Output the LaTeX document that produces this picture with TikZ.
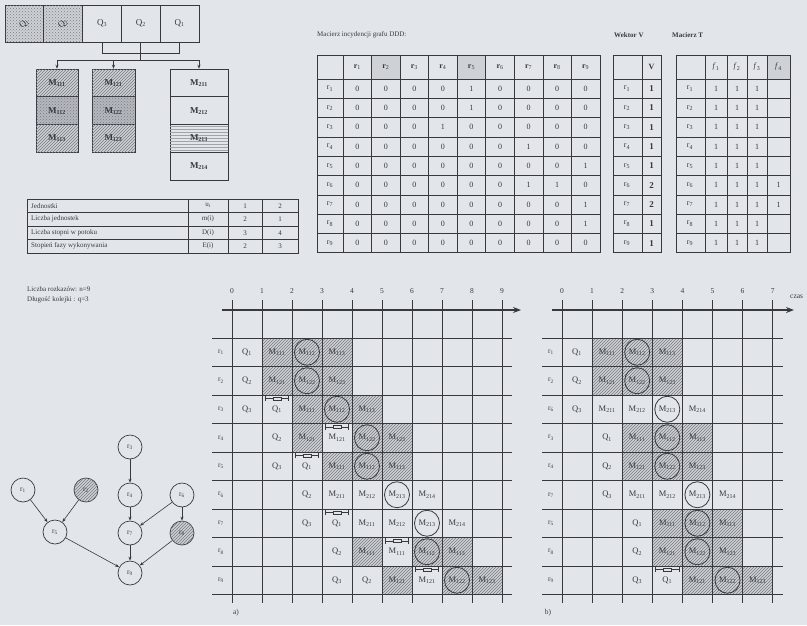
\documentclass[tikz,border=0pt]{standalone}
\usepackage{fontspec}
\setmainfont{Liberation Serif}
\usetikzlibrary{arrows.meta,patterns}
\definecolor{bgc}{RGB}{226,230,235}
\definecolor{lc}{RGB}{55,57,62}
\definecolor{hbg}{RGB}{206,210,215}
\definecolor{hln}{RGB}{120,124,129}
\definecolor{dk}{RGB}{180,184,190}
\newcommand\Mx[1]{M\textsubscript{#1}}
\newcommand\Qx[1]{Q\textsubscript{#1}}
\newcommand\rx[1]{r\textsubscript{#1}}
\begin{document}
\begin{tikzpicture}[x=1pt,y=-1pt,
  every node/.style={text=lc, inner sep=0pt},
  ln/.style={draw=lc, line width=0.75pt},
  thinln/.style={draw=lc, line width=0.55pt},
  hatch/.style={fill=hbg, postaction={pattern=north east lines, pattern color=hln}},
  dotfill/.style={fill=hbg, postaction={pattern=crosshatch dots, pattern color=hln}},
  qbox/.style={draw=lc, line width=0.8pt, minimum width=38.8, minimum height=37, font=\fontsize{9}{10}\selectfont},
  mbox/.style={draw=lc, line width=0.8pt, minimum height=27.7, font=\fontsize{9}{10}\selectfont\bfseries},
  tt/.style={font=\fontsize{7}{8}\selectfont},
  mt/.style={font=\fontsize{8}{9}\selectfont},
  ct/.style={font=\fontsize{8.5}{9}\selectfont},
  rt/.style={font=\fontsize{7.5}{8}\selectfont},
  gnode/.style={circle, draw=lc, line width=0.7pt, minimum size=24, font=\fontsize{7.5}{8}\selectfont},
  circ/.style={draw=lc, line width=0.8pt},
  arr/.style={-{Stealth[length=4pt,width=3pt]}, draw=lc, line width=0.6pt}
]
\fill[bgc] (0,0) rectangle (807,625);
\useasboundingbox (0,0) rectangle (807,625);

% ---------- queue boxes ----------
\node[qbox, dotfill] (q1) at (24.4,23.5) {\rotatebox{40}{\Qx{1}}};
\node[qbox, dotfill] (q2) at (63.2,23.5) {\rotatebox{40}{\Qx{2}}};
\node[qbox] (q3) at (102,23.5) {\Qx{3}};
\node[qbox] (q4) at (140.8,23.5) {\Qx{2}};
\node[qbox] (q5) at (179.6,23.5) {\Qx{1}};

% ---------- module stacks ----------
\node[mbox, minimum width=42, hatch] (s11) at (57,83) {\Mx{111}};
\node[mbox, minimum width=42, fill=dk, postaction={pattern=crosshatch dots, pattern color=hln}] (s12) at (57,110.7) {\Mx{112}};
\node[mbox, minimum width=42, hatch] (s13) at (57,138.4) {\Mx{113}};
\node[mbox, minimum width=43, hatch] (s21) at (113.5,83) {\Mx{121}};
\node[mbox, minimum width=43, fill=dk, postaction={pattern=crosshatch dots, pattern color=hln}] (s22) at (113.5,110.7) {\Mx{122}};
\node[mbox, minimum width=43, hatch] (s23) at (113.5,138.4) {\Mx{123}};
\node[mbox, minimum width=58] (s31) at (199,83) {\Mx{211}};
\node[mbox, minimum width=58] (s32) at (199,110.7) {\Mx{212}};
\node[mbox, minimum width=58, postaction={pattern=horizontal lines, pattern color=hln!70}] (s33) at (199,138.4) {\Mx{213}};
\node[mbox, minimum width=58] (s34) at (199,166.1) {\Mx{214}};

\path (q3.south) ++(0,11) coordinate (j3);
\path (q4.south) ++(0,11) coordinate (j4);
\path (q5.south) ++(0,11) coordinate (j5);
\coordinate (k4) at (140.8,60);
\coordinate (c1) at (57,60);
\coordinate (c2) at (113.5,60);
\coordinate (c3) at (199,60);
\draw[ln] (q3.south) -- (j3);
\draw[ln] (q4.south) -- (j4);
\draw[ln] (q5.south) -- (j5);
\draw[ln] (j3) -- (j5);
\draw[ln] (j4) -- (k4);
\draw[ln] (c1) -- (c3);
\draw[arr] (c1) -- (s11.north);
\draw[arr] (c2) -- (s21.north);
\draw[arr] (c3) -- (s31.north);

% ---------- parameter table ----------
\draw[ln] (27,199) rectangle (298,253);
\foreach \y in {212.5,226,239.5} \draw[thinln] (27,\y) -- (298,\y);
\foreach \x in {188,228,262} \draw[thinln] (\x,199) -- (\x,253);
\foreach \t/\s/\a/\b [count=\i] in {Jednostki/u\textsubscript{i}/1/2,
  Liczba jednostek/m(i)/2/1,
  Liczba stopni w potoku/D(i)/3/4,
  Stopień fazy wykonywania/E(i)/2/3} {
  \node[tt, anchor=west] (pl\i) at (31,{199+13.5*(\i-0.5)}) {\t};
  \node[tt] (ps\i) at (208,{199+13.5*(\i-0.5)}) {\s};
  \node[tt] (pa\i) at (245,{199+13.5*(\i-0.5)}) {\a};
  \node[tt] (pb\i) at (280,{199+13.5*(\i-0.5)}) {\b};
}
\node[tt, anchor=west] (nn) at (27,289) {Liczba rozkazów: n=9};
\node[tt, anchor=west] (qq) at (27,300) {Długość kolejki : q=3};

% ---------- incidence matrix ----------
\node[tt, anchor=west] (mtitle) at (317,35) {Macierz incydencji grafu DDD:};
\fill[hbg] (371.55,55) rectangle (400.1,79);
\fill[hbg] (457.2,55) rectangle (485.75,79);
\draw[ln] (317,55) rectangle (600,252.7);
\foreach \i in {0,...,8} \draw[thinln] (317,{79+19.3*\i}) -- (600,{79+19.3*\i});
\foreach \j in {0,...,8} \draw[thinln] ({343+28.55*\j},55) -- ({343+28.55*\j},252.7);
\foreach \j in {1,...,9} \node[mt] (mh\j) at ({343+28.55*(\j-0.5)},67) {\textbf{r}\textsubscript{\j}};
\foreach \i in {1,...,9} \node[mt] (ml\i) at (330,{79+19.3*(\i-0.5)}) {\rx{\i}};
\foreach \row [count=\i] in {{0,0,0,0,1,0,0,0,0},{0,0,0,0,1,0,0,0,0},{0,0,0,1,0,0,0,0,0},
  {0,0,0,0,0,0,1,0,0},{0,0,0,0,0,0,0,0,1},{0,0,0,0,0,0,1,1,0},{0,0,0,0,0,0,0,0,1},
  {0,0,0,0,0,0,0,0,1},{0,0,0,0,0,0,0,0,0}} {
  \foreach \v [count=\j] in \row {
    \node[mt] (m-\i-\j) at ({343+28.55*(\j-0.5)},{79+19.3*(\i-0.5)}) {\v};
  }
}

% ---------- vector V ----------
\node[tt, anchor=west] (vtitle) at (614,35) {\textbf{Wektor V}};
\draw[ln] (613,55) rectangle (661,252.7);
\foreach \i in {0,...,8} \draw[thinln] (613,{79+19.3*\i}) -- (661,{79+19.3*\i});
\draw[thinln] (642,55) -- (642,252.7);
\node[mt] (vh) at (651.5,67) {\textbf{V}};
\foreach \v [count=\i] in {1,1,1,1,1,2,2,1,1} {
  \node[mt] (vl\i) at (627,{79+19.3*(\i-0.5)}) {\rx{\i}};
  \node[mt, font=\fontsize{9}{10}\selectfont\bfseries] (v\i) at (651.5,{79+19.3*(\i-0.5)}) {\v};
}

% ---------- matrix T ----------
\node[tt, anchor=west] (ttitle) at (672,35) {\textbf{Macierz T}};
\fill[hbg] (767,55) rectangle (790,79);
\draw[ln] (676,55) rectangle (790,252.7);
\foreach \i in {0,...,8} \draw[thinln] (676,{79+19.3*\i}) -- (790,{79+19.3*\i});
\foreach \x in {705,727,747,767} \draw[thinln] (\x,55) -- (\x,252.7);
\foreach \x [count=\j] in {716,737,757,778.5} \node[mt] (th\j) at (\x,67) {\textit{f}\textsubscript{\j}};
\foreach \a/\b/\c/\d [count=\i] in {1/1/1/,1/1/1/,1/1/1/,1/1/1/,1/1/1/,1/1/1/1,1/1/1/1,1/1/1/,1/1/1/} {
  \node[mt] (tl\i) at (690,{79+19.3*(\i-0.5)}) {\rx{\i}};
  \node[mt] (ta\i) at (716,{79+19.3*(\i-0.5)}) {\a};
  \node[mt] (tb\i) at (737,{79+19.3*(\i-0.5)}) {\b};
  \node[mt] (tc\i) at (757,{79+19.3*(\i-0.5)}) {\c};
  \node[mt] (td\i) at (778.5,{79+19.3*(\i-0.5)}) {\d};
}

% ---------- chart a ----------
\foreach \r/\c in {1/1,1/2,1/3,2/1,2/2,2/3,3/2,3/3,3/4,4/2,4/4,4/5,5/3,5/4,5/5,8/4,8/6,8/7,9/5,9/7,9/8}
  \fill[hatch] ({232+30*\c},{338+28.5*(\r-1)}) rectangle ++(30,28.5);
\foreach \i in {0,...,9} {
  \draw[ln] ({232+30*\i},300) -- ({232+30*\i},603);
  \node[rt] (an\i) at ({232+30*\i},291) {\i};
}
\foreach \j in {0,...,9} \draw[ln] (212,{338+28.5*\j}) -- (512,{338+28.5*\j});
\draw[draw=lc, line width=1.1pt, -{Stealth[length=8pt,width=6pt]}] (222,310) -- (521,310);
\foreach \k in {1,...,9} \node[rt] (ar\k) at (221,{338+28.5*(\k-0.5)}) {\rx{\k}};
\foreach \r/\c/\t in {1/0/\Qx{1},1/1/\Mx{111},1/2/\Mx{112},1/3/\Mx{113},
  2/0/\Qx{2},2/1/\Mx{121},2/2/\Mx{122},2/3/\Mx{123},
  3/0/\Qx{3},3/1/\Qx{1},3/2/\Mx{111},3/3/\Mx{112},3/4/\Mx{113},
  4/1/\Qx{2},4/2/\Mx{121},4/3/\Mx{121},4/4/\Mx{122},4/5/\Mx{123},
  5/1/\Qx{3},5/2/\Qx{1},5/3/\Mx{111},5/4/\Mx{112},5/5/\Mx{113},
  6/2/\Qx{2},6/3/\Mx{211},6/4/\Mx{212},6/5/\Mx{213},6/6/\Mx{214},
  7/2/\Qx{3},7/3/\Qx{1},7/4/\Mx{211},7/5/\Mx{212},7/6/\Mx{213},7/7/\Mx{214},
  8/3/\Qx{2},8/4/\Mx{111},8/5/\Mx{111},8/6/\Mx{112},8/7/\Mx{113},
  9/3/\Qx{3},9/4/\Qx{2},9/5/\Mx{121},9/6/\Mx{121},9/7/\Mx{122},9/8/\Mx{123}}
  \node[ct] (a-\r-\c) at ({232+30*\c+15},{338+28.5*(\r-1)+14.25}) {\t};
\foreach \r/\c in {1/2,2/2,3/3,4/4,5/4,6/5,7/6,8/6,9/7}
  \draw[circ] ({232+30*\c+15},{338+28.5*(\r-1)+14.25}) ellipse [x radius=12.5, y radius=13];
\foreach \r/\c in {3/1,4/3,5/2,7/3,8/5,9/6} {
  \draw[draw=lc, line width=0.6pt, |-|] ({232+30*\c+3},{338+28.5*(\r-1)+3.5}) -- ({232+30*\c+27},{338+28.5*(\r-1)+3.5});
  \draw[draw=lc, line width=0.6pt, fill=bgc] ({232+30*\c+11},{338+28.5*(\r-1)+1.8}) rectangle ({232+30*\c+19},{338+28.5*(\r-1)+5.2});
}
\node[rt] (la) at (236,613) {a)};

% ---------- chart b ----------
\foreach \r/\c in {1/1,1/2,1/3,2/1,2/2,2/3,4/2,4/3,4/4,5/2,5/3,5/4,7/3,7/4,7/5,8/3,8/4,8/5,9/4,9/5,9/6}
  \fill[hatch] ({562+30.1*\c},{338+28.5*(\r-1)}) rectangle ++(30.1,28.5);
\foreach \i in {0,...,7} {
  \draw[ln] ({562+30.1*\i},300) -- ({562+30.1*\i},603);
  \node[rt] (bn\i) at ({562+30.1*\i},291) {\i};
}
\foreach \j in {0,...,9} \draw[ln] (542,{338+28.5*\j}) -- (783,{338+28.5*\j});
\draw[draw=lc, line width=1.1pt, -{Stealth[length=8pt,width=6pt]}] (552,310) -- (794,310);
\node[rt, anchor=west] (czas) at (790,297) {czas};
\foreach \l [count=\k] in {1,2,6,3,4,7,5,8,9} \node[rt] (br\k) at (551,{338+28.5*(\k-0.5)}) {\rx{\l}};
\foreach \r/\c/\t in {1/0/\Qx{1},1/1/\Mx{111},1/2/\Mx{112},1/3/\Mx{113},
  2/0/\Qx{2},2/1/\Mx{121},2/2/\Mx{122},2/3/\Mx{123},
  3/0/\Qx{3},3/1/\Mx{211},3/2/\Mx{212},3/3/\Mx{213},3/4/\Mx{214},
  4/1/\Qx{1},4/2/\Mx{111},4/3/\Mx{112},4/4/\Mx{113},
  5/1/\Qx{2},5/2/\Mx{121},5/3/\Mx{122},5/4/\Mx{123},
  6/1/\Qx{3},6/2/\Mx{211},6/3/\Mx{212},6/4/\Mx{213},6/5/\Mx{214},
  7/2/\Qx{1},7/3/\Mx{111},7/4/\Mx{112},7/5/\Mx{113},
  8/2/\Qx{2},8/3/\Mx{121},8/4/\Mx{122},8/5/\Mx{123},
  9/2/\Qx{3},9/3/\Qx{1},9/4/\Mx{121},9/5/\Mx{122},9/6/\Mx{123}}
  \node[ct] (b-\r-\c) at ({562+30.1*\c+15},{338+28.5*(\r-1)+14.25}) {\t};
\foreach \r/\c in {1/2,2/2,3/3,4/3,5/3,6/4,7/4,8/4,9/5}
  \draw[circ] ({562+30.1*\c+15},{338+28.5*(\r-1)+14.25}) ellipse [x radius=12.5, y radius=13];
\foreach \r/\c in {9/3} {
  \draw[draw=lc, line width=0.6pt, |-|] ({562+30.1*\c+3},{338+28.5*(\r-1)+3.5}) -- ({562+30.1*\c+27},{338+28.5*(\r-1)+3.5});
  \draw[draw=lc, line width=0.6pt, fill=bgc] ({562+30.1*\c+11},{338+28.5*(\r-1)+1.8}) rectangle ({562+30.1*\c+19},{338+28.5*(\r-1)+5.2});
}
\node[rt] (lb) at (548,613) {b)};

% ---------- graph ----------
\node[gnode] (g1) at (23,490) {\rx{1}};
\node[gnode, hatch] (g2) at (86,490) {\rx{2}};
\node[gnode] (g3) at (130,447) {\rx{3}};
\node[gnode] (g4) at (130,495) {\rx{4}};
\node[gnode] (g6) at (182,495) {\rx{6}};
\node[gnode] (g5) at (55,532) {\rx{5}};
\node[gnode] (g7) at (130,533) {\rx{7}};
\node[gnode, hatch] (g8) at (182,533) {\rx{8}};
\node[gnode] (g9) at (130,573) {\rx{9}};
\draw[arr] (g1) -- (g5);
\draw[arr] (g2) -- (g5);
\draw[arr] (g3) -- (g4);
\draw[arr] (g4) -- (g7);
\draw[arr] (g6) -- (g7);
\draw[arr] (g6) -- (g8);
\draw[arr] (g5) -- (g9);
\draw[arr] (g7) -- (g9);
\draw[arr] (g8) -- (g9);
\end{tikzpicture}
\end{document}
